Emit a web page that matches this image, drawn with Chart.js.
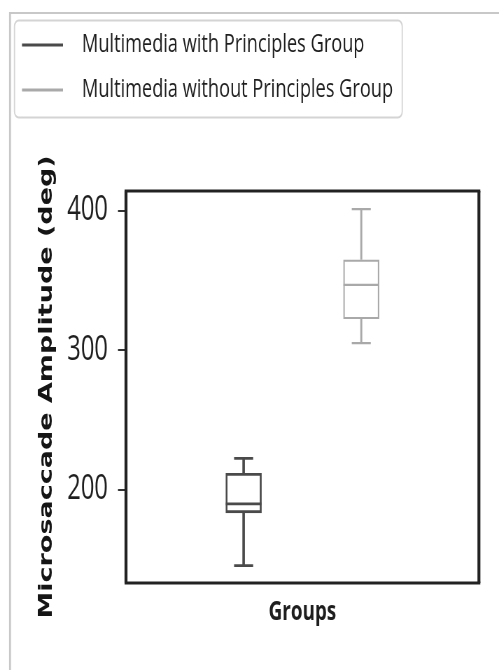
<!DOCTYPE html>
<html>
<head>
<meta charset="utf-8">
<script src="https://cdn.jsdelivr.net/npm/chart.js@4"></script>
<style>
  html, body { margin: 0; padding: 0; background: #fff; overflow: hidden; }
  /* the figure is laid out wide and squeezed horizontally into the page */
  #wrap { width: 713px; height: 670px; position: relative; transform: scaleX(0.69986); transform-origin: 0 0; }
</style>
</head>
<body>
<div id="wrap"><canvas id="boxChart"></canvas></div>
<script>
// box plot summary per group
const groups = ['Multimedia with Principles Group', 'Multimedia without Principles Group'];
const whiskerLow = [145.5, 304.9];
const quartile1 = [183.3, 322.4];
const medians = [189.7, 346.7];
const quartile3 = [211.7, 364.7];
const whiskerHigh = [222.4, 401.0];

// empty slots at both ends keep the boxes at 1/3 and 2/3 of the width
const slots = ['', 'with', 'without', ''];
const yTicks = [200, 300, 400];
const colors = ['#4a4a4a', '#a9a9a9'];

const FONT = "'Open Sans', sans-serif";

// whiskers, caps and median lines on top of the floating bars
const boxWhiskers = {
  id: 'boxWhiskers',
  afterDatasetsDraw(chart) {
    const { ctx, scales: { y } } = chart;
    chart.data.datasets.forEach((ds, i) => {
      const bar = chart.getDatasetMeta(i).data[i + 1];
      const x = bar.x;
      const half = bar.width / 2;
      const cap = 13.6;
      const hi = y.getPixelForValue(whiskerHigh[i]);
      const lo = y.getPixelForValue(whiskerLow[i]);
      const q1 = y.getPixelForValue(quartile1[i]);
      const q3 = y.getPixelForValue(quartile3[i]);
      const md = y.getPixelForValue(medians[i]);
      ctx.save();
      ctx.strokeStyle = ds.borderColor;
      ctx.lineWidth = ds.borderWidth;
      ctx.beginPath();
      ctx.moveTo(x - cap, hi); ctx.lineTo(x + cap, hi);
      ctx.moveTo(x - cap, lo); ctx.lineTo(x + cap, lo);
      ctx.moveTo(x - half, md); ctx.lineTo(x + half, md);
      ctx.stroke();
      // vertical strokes a bit wider so they survive the squeeze
      ctx.lineWidth = ds.borderWidth * 1.3;
      ctx.beginPath();
      ctx.moveTo(x, q3); ctx.lineTo(x, hi);
      ctx.moveTo(x, q1); ctx.lineTo(x, lo);
      ctx.stroke();
      ctx.restore();
    });
  }
};

// plot frame, figure edge and the boxed legend
const decorations = {
  id: 'decorations',
  afterDraw(chart) {
    const { ctx, chartArea: a } = chart;
    ctx.save();
    ctx.strokeStyle = '#222';
    ctx.lineWidth = 3;
    ctx.beginPath();
    ctx.moveTo(a.left - 2, a.top); ctx.lineTo(a.right + 2, a.top);
    ctx.moveTo(a.left - 2, a.bottom); ctx.lineTo(a.right + 2, a.bottom);
    ctx.stroke();
    ctx.lineWidth = 4.2;
    ctx.beginPath();
    ctx.moveTo(a.left, a.top); ctx.lineTo(a.left, a.bottom);
    ctx.moveTo(a.right, a.top); ctx.lineTo(a.right, a.bottom);
    ctx.stroke();

    ctx.strokeStyle = '#c8c8c8';
    ctx.lineWidth = 2;
    ctx.beginPath();
    ctx.moveTo(14.3, 13); ctx.lineTo(713, 13);
    ctx.stroke();
    ctx.lineWidth = 2.8;
    ctx.beginPath();
    ctx.moveTo(14.3, 670); ctx.lineTo(14.3, 12);
    ctx.stroke();

    ctx.strokeStyle = '#d4d4d4';
    ctx.lineWidth = 1.8;
    ctx.beginPath();
    ctx.roundRect(20.7, 20.5, 554, 97, 6);
    ctx.stroke();

    ctx.font = '26px ' + FONT;
    ctx.textBaseline = 'middle';
    ctx.fillStyle = '#1e1e1e';
    chart.data.datasets.forEach((ds, i) => {
      const yy = 45 + i * 45;
      ctx.strokeStyle = ds.borderColor;
      ctx.lineWidth = 3;
      ctx.beginPath();
      ctx.moveTo(31.4, yy); ctx.lineTo(90, yy);
      ctx.stroke();
      ctx.fillText(ds.label, 117, yy);
    });
    ctx.restore();
  }
};

new Chart(document.getElementById('boxChart'), {
  type: 'bar',
  data: {
    labels: slots,
    datasets: groups.map((g, i) => ({
      label: g,
      data: slots.map((s, k) => (k === i + 1 ? [quartile1[i], quartile3[i]] : null)),
      backgroundColor: '#fff',
      borderColor: colors[i],
      borderWidth: i === 0 ? 2.8 : 2.2,
      borderSkipped: false,
      grouped: false,
      barThickness: 51
    }))
  },
  options: {
    responsive: true,
    maintainAspectRatio: false,
    animation: false,
    layout: { padding: { top: 191, right: 28.7, left: 0, bottom: 0 } },
    plugins: {
      legend: { display: false },
      tooltip: { enabled: false }
    },
    scales: {
      x: {
        type: 'category',
        offset: false,
        grid: { display: false },
        border: { display: false },
        ticks: { display: false },
        title: {
          display: true,
          text: 'Groups',
          color: '#1e1e1e',
          font: { family: FONT, size: 27, weight: 'bold' },
          padding: { top: 4, bottom: 41 }
        },
        afterFit(axis) { axis.height = 87; }
      },
      y: {
        min: 133,
        max: 414,
        afterBuildTicks(axis) { axis.ticks = yTicks.map(v => ({ value: v })); },
        afterFit(axis) { axis.width = 180; },
        grid: { drawOnChartArea: false, drawTicks: true, tickLength: 11.4, color: '#333', lineWidth: 2 },
        border: { display: false },
        ticks: { color: '#1e1e1e', padding: 14.3, font: { family: FONT, size: 34 } },
        title: {
          display: true,
          text: 'Microsaccade Amplitude (deg)',
          color: '#151515',
          font: { family: 'DejaVu Sans', size: 27, weight: 'bold' },
          padding: { top: 50.8 }
        }
      }
    }
  },
  plugins: [boxWhiskers, decorations]
});
</script>
</body>
</html>
